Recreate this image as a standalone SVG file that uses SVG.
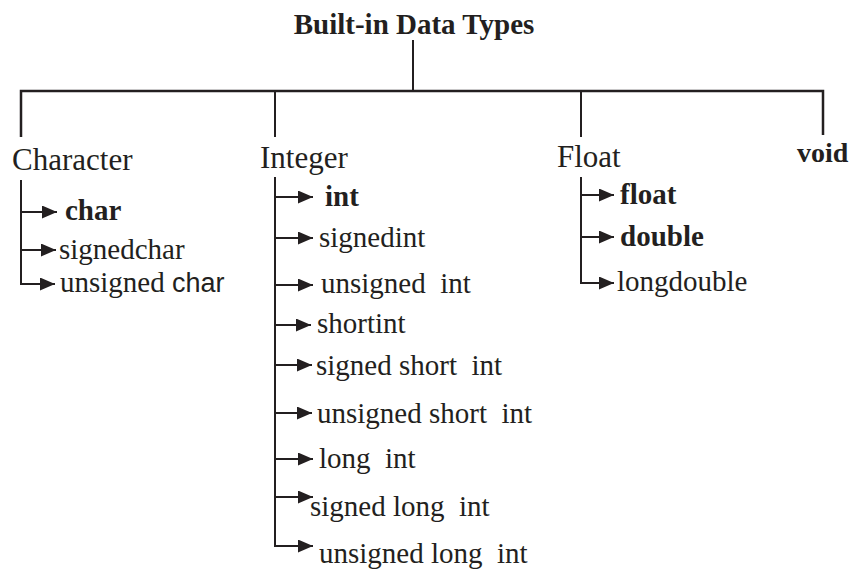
<svg xmlns="http://www.w3.org/2000/svg" width="851" height="572" viewBox="0 0 851 572">
<style>
text{font-family:"Liberation Serif","Times New Roman",serif;fill:#231f20;white-space:pre}
.t{font-size:29px;font-weight:bold}
.c{font-size:31px}
.i{font-size:29px}
.b{font-size:29px;font-weight:bold}
.v{font-size:28px;font-weight:bold}
.s{font-family:"Liberation Sans",Arial,sans-serif;font-size:27px}
.ln{stroke:#231f20;stroke-width:2;fill:none}
.ar{stroke:#231f20;stroke-width:2;fill:none;marker-end:url(#ah)}
</style>
<defs>
<marker id="ah" markerUnits="userSpaceOnUse" markerWidth="15" markerHeight="13" refX="15" refY="6.5" orient="auto">
<path d="M0,0 L15,6.5 L0,13 z" fill="#231f20"/>
</marker>
</defs>
<g id="connectors">
<path class="ln" d="M413,40 V91"/>
<path class="ln" d="M21,137 V91 H823 V135" style="stroke-width:2.5"/>
<path class="ln" d="M275,91 V137"/>
<path class="ln" d="M581,91 V137"/>
<path class="ar" d="M21,180 V284 H55"/>
<path class="ar" d="M21,212 H57"/>
<path class="ar" d="M21,250 H56"/>
<path class="ar" d="M275,177 V546 H313"/>
<path class="ar" d="M275,197 H313"/>
<path class="ar" d="M275,238 H313"/>
<path class="ar" d="M275,285 H313"/>
<path class="ar" d="M275,325 H311"/>
<path class="ar" d="M275,365 H312"/>
<path class="ar" d="M275,413 H312"/>
<path class="ar" d="M275,459 H313"/>
<path class="ar" d="M275,497 H313"/>
<path class="ar" d="M581,177 V283 H614"/>
<path class="ar" d="M581,195 H614"/>
<path class="ar" d="M581,237 H614"/>
</g>
<g id="root"><text class="t" x="414" y="34" text-anchor="middle">Built-in Data Types</text></g>
<g id="character"><text class="c" x="12" y="170">Character</text></g>
<g id="integer"><text class="c" x="260" y="168">Integer</text></g>
<g id="float"><text class="c" x="557" y="167">Float</text></g>
<g id="void"><text class="v" x="797" y="162">void</text></g>
<g id="char"><text class="b" x="65" y="220">char</text></g>
<g id="signedchar"><text class="i" x="59" y="259">signedchar</text></g>
<g id="unsignedchar"><text class="i" x="60" y="292">unsigned <tspan class="s">char</tspan></text></g>
<g id="int"><text class="b" x="325" y="206">int</text></g>
<g id="signedint"><text class="i" x="319" y="247">signedint</text></g>
<g id="unsignedint"><text class="i" x="321" y="293">unsigned  int</text></g>
<g id="shortint"><text class="i" x="317" y="333">shortint</text></g>
<g id="signedshortint"><text class="i" x="316" y="375">signed short  int</text></g>
<g id="unsignedshortint"><text class="i" x="317" y="423">unsigned short  int</text></g>
<g id="longint"><text class="i" x="319" y="468">long  int</text></g>
<g id="signedlongint"><text class="i" x="310" y="516">signed long  int</text></g>
<g id="unsignedlongint"><text class="i" x="319" y="563">unsigned long  int</text></g>
<g id="floatt"><text class="b" x="620" y="204">float</text></g>
<g id="double"><text class="b" x="620" y="246">double</text></g>
<g id="longdouble"><text class="i" x="617" y="291">longdouble</text></g>
</svg>
